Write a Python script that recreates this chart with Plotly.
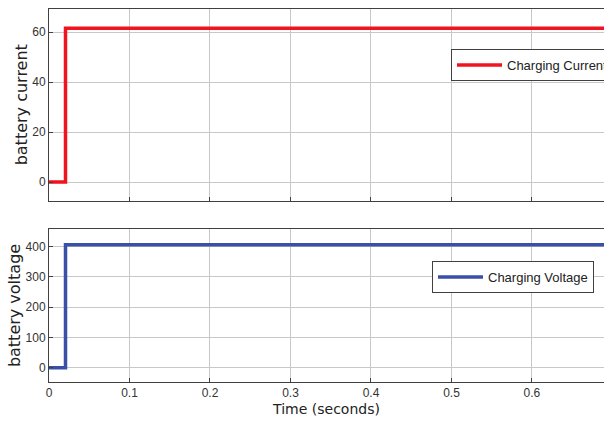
import plotly.graph_objects as go

# Data
time_pts = [0.0, 0.0205, 0.70]
current_vals = [0.0, 61.5, 61.5]
voltage_vals = [0.0, 406.0, 406.0]
x_ticks = [0, 0.1, 0.2, 0.3, 0.4, 0.5, 0.6]
x_tick_labels = ["0", "0.1", "0.2", "0.3", "0.4", "0.5", "0.6"]
cur_ticks = [0, 20, 40, 60]
volt_ticks = [0, 100, 200, 300, 400]

W, H = 604, 433
L, R, T, B = 49, 0, 9, 51
ph = H - T - B

def py(pix):
    return (H - B - pix) / ph

TF = "DejaVu Sans, Arial"

fig = go.Figure()
fig.add_trace(go.Scatter(x=time_pts, y=current_vals, mode="lines", line=dict(color="#f0141e", width=3.5, shape="hv"),
                         name="Charging Current", xaxis="x", yaxis="y", legend="legend"))
fig.add_trace(go.Scatter(x=time_pts, y=voltage_vals, mode="lines", line=dict(color="#3a4fa8", width=3.5, shape="hv"),
                         name="Charging Voltage", xaxis="x2", yaxis="y2", legend="legend2"))

axis_common = dict(showgrid=True, gridcolor="#c8c8c8", gridwidth=1, zeroline=False,
                   showline=True, linecolor="#404040", linewidth=1, automargin=False,
                   ticks="inside", ticklen=4, tickcolor="#404040",
                   tickfont=dict(family="Liberation Sans, Arial", size=12, color="#333333"))

xr = [0, 0.6895]
fig.update_layout(
    width=W, height=H, margin=dict(l=L, r=R, t=T, b=B, autoexpand=False),
    paper_bgcolor="white", plot_bgcolor="white",
    showlegend=True,
    xaxis=dict(domain=[0, 1], range=xr, anchor="y", tickvals=x_ticks, showticklabels=False, mirror=True, **axis_common),
    yaxis=dict(domain=[py(200.5), 1], range=[-7.4, 69.2], anchor="x", tickvals=cur_ticks, mirror=False,
               title=dict(text="battery current", font=dict(family=TF, size=16, color="#222"), standoff=0),
               **axis_common),
    xaxis2=dict(domain=[0, 1], range=xr, anchor="y2", tickvals=x_ticks, ticktext=x_tick_labels, mirror=True,
                title=dict(text="Time (seconds)", font=dict(family=TF, size=14, color="#222"), standoff=4),
                **axis_common),
    yaxis2=dict(domain=[0, py(229)], range=[-47, 458], anchor="x2", tickvals=volt_ticks, mirror=False,
                title=dict(text="battery voltage", font=dict(family=TF, size=16, color="#222"), standoff=0),
                **axis_common),
    legend=dict(x=(451 - L) / (W - L - R), y=py(49), xanchor="left", yanchor="top",
                bordercolor="#404040", borderwidth=1, bgcolor="white",
                font=dict(family="Liberation Sans, Arial", size=13, color="#222"),
                itemwidth=45, tracegroupgap=0),
    legend2=dict(x=(432 - L) / (W - L - R), y=py(261), xanchor="left", yanchor="top",
                 bordercolor="#404040", borderwidth=1, bgcolor="white",
                 font=dict(family="Liberation Sans, Arial", size=13, color="#222"),
                 itemwidth=45, tracegroupgap=0),
)

fig.write_html("out.html", config={"displayModeBar": False},
               post_script="document.body.style.margin='0';document.body.style.overflow='hidden';")
